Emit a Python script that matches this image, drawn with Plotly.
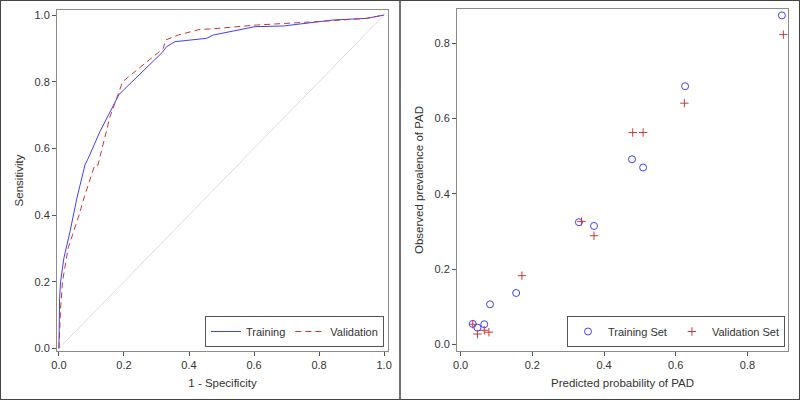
import plotly.graph_objects as go

# ROC curves
train_fpr = [0.0, 0.0, 0.002, 0.005, 0.015, 0.034, 0.044, 0.055, 0.08, 0.09, 0.126, 0.185,
             0.318, 0.331, 0.357, 0.454, 0.475, 0.603, 0.69, 0.843, 0.947, 1.0]
train_tpr = [0.0, 0.08, 0.15, 0.2, 0.27, 0.35, 0.4, 0.45, 0.55, 0.57, 0.65, 0.762,
             0.888, 0.905, 0.92, 0.93, 0.94, 0.965, 0.967, 0.985, 0.99, 1.0]
valid_fpr = [0.0, 0.003, 0.005, 0.011, 0.016, 0.028, 0.062, 0.075, 0.11, 0.12, 0.157, 0.196,
             0.321, 0.328, 0.367, 0.434, 0.467, 0.608, 0.793, 0.947, 1.0]
valid_tpr = [0.0, 0.08, 0.12, 0.2, 0.23, 0.3, 0.4, 0.445, 0.55, 0.55, 0.695, 0.80,
             0.90, 0.925, 0.94, 0.957, 0.958, 0.97, 0.98, 0.99, 1.0]
diag = [0.0, 1.0]

# Calibration
train_pred = [0.034, 0.047, 0.066, 0.082, 0.155, 0.330, 0.372, 0.478, 0.509, 0.626, 0.896]
train_obs = [0.055, 0.045, 0.054, 0.107, 0.137, 0.325, 0.315, 0.492, 0.470, 0.686, 0.874]
valid_pred = [0.034, 0.047, 0.066, 0.079, 0.171, 0.337, 0.372, 0.480, 0.509, 0.624, 0.900]
valid_obs = [0.054, 0.028, 0.038, 0.033, 0.183, 0.327, 0.289, 0.563, 0.563, 0.641, 0.823]

BLUE = "#4040ff"
RED = "#c43a3a"
FONT = "Liberation Sans"

fig = go.Figure()
fig.add_trace(go.Scatter(x=diag, y=diag, mode="lines", line=dict(color="#dcdcdc", width=1),
                         showlegend=False, hoverinfo="skip", xaxis="x", yaxis="y"))
fig.add_trace(go.Scatter(x=train_fpr, y=train_tpr, mode="lines", name="Training",
                         line=dict(color=BLUE, width=1), legend="legend", xaxis="x", yaxis="y"))
fig.add_trace(go.Scatter(x=valid_fpr, y=valid_tpr, mode="lines", name="Validation",
                         line=dict(color=RED, width=1, dash="6px,4px"), legend="legend",
                         xaxis="x", yaxis="y"))
fig.add_trace(go.Scatter(x=train_pred, y=train_obs, mode="markers", name="Training Set",
                         marker=dict(symbol="circle-open", size=7, color=BLUE, line=dict(width=1)),
                         legend="legend2", xaxis="x2", yaxis="y2"))
fig.add_trace(go.Scatter(x=valid_pred, y=valid_obs, mode="markers", name="Validation Set",
                         marker=dict(symbol="cross-thin-open", size=6, color=RED, line=dict(width=1, color=RED)),
                         legend="legend2", xaxis="x2", yaxis="y2"))

axis_common = dict(showgrid=False, zeroline=False, showline=True, linecolor="#8c8c8c",
                   linewidth=1, mirror=True, ticks="outside", ticklen=4, tickcolor="#555",
                   automargin=False,
                   tickfont=dict(family=FONT, size=11, color="#333"),
                   title_font=dict(family=FONT, size=11.5, color="#333"))

fig.update_layout(
    width=800, height=400,
    margin=dict(l=0, r=0, t=0, b=0, autoexpand=False),
    paper_bgcolor="white", plot_bgcolor="white",
    font=dict(family=FONT, size=11, color="#333"),
    xaxis=dict(domain=[57/800, 388/800], range=[-0.006, 1.012], tickvals=[0, 0.2, 0.4, 0.6, 0.8, 1.0],
               tickformat=".1f", title=dict(text="1 - Specificity", standoff=8), anchor="y", **axis_common),
    yaxis=dict(domain=[1-351/400, 1-10/400], range=[-0.008, 1.015], tickvals=[0, 0.2, 0.4, 0.6, 0.8, 1.0],
               tickformat=".1f", title=dict(text="Sensitivity", standoff=8), anchor="x", **axis_common),
    xaxis2=dict(domain=[457/800, 788/800], range=[-0.01, 0.913], tickvals=[0, 0.2, 0.4, 0.6, 0.8],
                tickformat=".1f", title=dict(text="Predicted probability of PAD", standoff=8), anchor="y2", **axis_common),
    yaxis2=dict(domain=[1-351/400, 1-9/400], range=[-0.017, 0.891], tickvals=[0, 0.2, 0.4, 0.6, 0.8],
                tickformat=".1f", title=dict(text="Observed prevalence of PAD", standoff=8), anchor="x2", **axis_common),
    legend=dict(orientation="h", x=384/800, xanchor="right", y=1-347/400, yanchor="bottom",
                bordercolor="#555", borderwidth=1, bgcolor="white",
                font=dict(family=FONT, size=11, color="#333"), itemwidth=30),
    legend2=dict(orientation="h", x=785/800, xanchor="right", y=1-347/400, yanchor="bottom",
                 bordercolor="#555", borderwidth=1, bgcolor="white",
                 font=dict(family=FONT, size=11, color="#333"), itemwidth=30),
    shapes=[
        dict(type="rect", xref="paper", yref="paper", x0=0, y0=0, x1=1, y1=1,
             line=dict(color="#444", width=2)),
        dict(type="line", xref="paper", yref="paper", x0=0.5, y0=0, x1=0.5, y1=1,
             line=dict(color="#444", width=1.5)),
    ],
)

fig.write_html("out.html", config={"displayModeBar": False},
               post_script="document.body.style.margin='0';")
